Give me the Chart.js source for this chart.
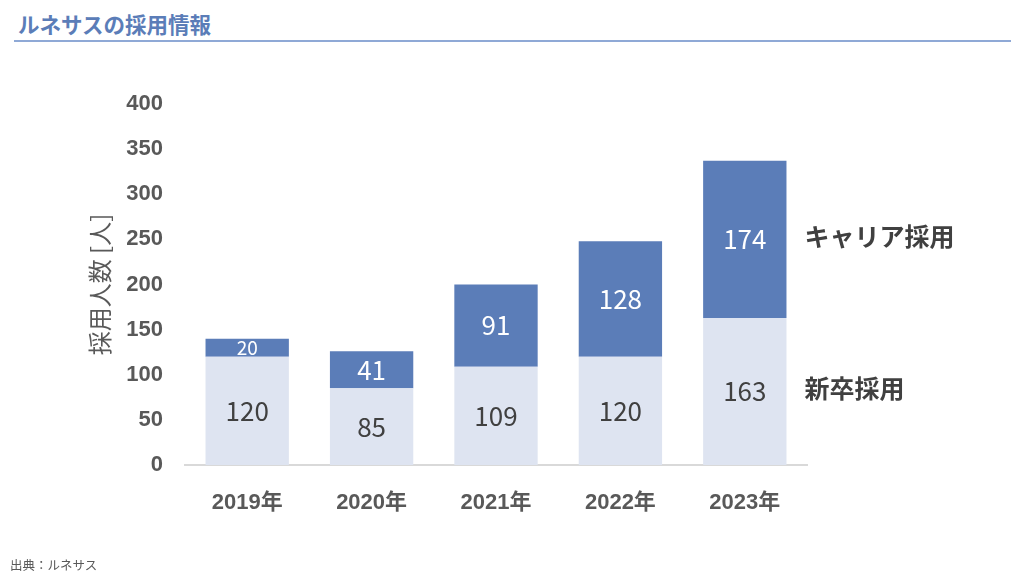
<!DOCTYPE html>
<html>
<head>
<meta charset="utf-8">
<script src="https://cdn.jsdelivr.net/npm/chart.js@4"></script>
<style>
  html, body { margin: 0; padding: 0; background: #fff; }
  body { width: 1024px; height: 576px; position: relative; overflow: hidden; font-family: "Noto Sans CJK JP", sans-serif; }
  #title { position: absolute; left: 18px; top: 8px; font-size: 21.5px; font-weight: bold; color: #5b7db8; }
  #rule { position: absolute; left: 14px; top: 40px; width: 997px; height: 2px; background: #8fa9d6; }
  #source { position: absolute; left: 10px; top: 555px; font-size: 12.5px; color: #595959; }
  #wrap { position: absolute; left: 0; top: 0; width: 1024px; height: 576px; }
</style>
</head>
<body>
<div id="title">ルネサスの採用情報</div>
<div id="rule"></div>
<div id="wrap"><canvas id="chart"></canvas></div>
<div id="source">出典：ルネサス</div>
<script>
const years = ['2019年', '2020年', '2021年', '2022年', '2023年'];
const newGrad = [120, 85, 109, 120, 163];   // 新卒採用
const career = [20, 41, 91, 128, 174];      // キャリア採用
const seriesNames = ['新卒採用', 'キャリア採用'];

const FONT = '"Noto Sans CJK JP", sans-serif';
const TICK_FONT = '"Liberation Sans", "Noto Sans CJK JP", sans-serif';

// 棒の中の数値と右側の系列名
const labelPlugin = {
  id: 'barLabels',
  afterDatasetsDraw(chart) {
    const ctx = chart.ctx;
    ctx.save();
    ctx.textBaseline = 'middle';
    chart.data.datasets.forEach((ds, i) => {
      const meta = chart.getDatasetMeta(i);
      ctx.textAlign = 'center';
      meta.data.forEach((bar, j) => {
        const h = Math.abs(bar.base - bar.y);
        const size = Math.min(26, h + 1);
        ctx.font = `${size}px ${FONT}`;
        ctx.fillStyle = i === 0 ? '#404040' : '#ffffff';
        ctx.fillText(ds.data[j], bar.x, (bar.y + bar.base) / 2);
      });
      const last = meta.data[meta.data.length - 1];
      ctx.font = `bold 25px ${FONT}`;
      ctx.fillStyle = '#404040';
      ctx.textAlign = 'left';
      ctx.fillText(ds.label, last.x + last.width / 2 + 18, (last.y + last.base) / 2 - 3);
    });
    ctx.restore();
  }
};

new Chart(document.getElementById('chart'), {
  type: 'bar',
  data: {
    labels: years,
    datasets: [
      { label: seriesNames[0], data: newGrad, backgroundColor: '#dee4f1' },
      { label: seriesNames[1], data: career, backgroundColor: '#5b7db8' }
    ]
  },
  options: {
    responsive: true,
    maintainAspectRatio: false,
    animation: false,
    layout: { padding: { left: 85, right: 217, top: 104, bottom: 61 } },
    datasets: { bar: { categoryPercentage: 1, barPercentage: 0.67 } },
    plugins: {
      legend: { display: false },
      tooltip: { enabled: false }
    },
    scales: {
      x: {
        stacked: true,
        grid: { display: false },
        border: { display: true, color: '#d9d9d9', width: 2 },
        ticks: { color: '#595959', padding: 17, font: { family: TICK_FONT, size: 22, weight: 'bold' } },
        afterFit: s => { s.height = 50; }
      },
      y: {
        stacked: true,
        min: 0,
        max: 400,
        grid: { display: false, drawTicks: false },
        border: { display: false },
        ticks: { stepSize: 50, color: '#595959', padding: 22, font: { family: TICK_FONT, size: 22, weight: 'bold' } },
        title: { display: true, text: '採用人数 [人]', color: '#595959', padding: 0, font: { family: FONT, size: 24 } },
        afterFit: s => { s.width = 100; }
      }
    }
  },
  plugins: [labelPlugin]
});
</script>
</body>
</html>
